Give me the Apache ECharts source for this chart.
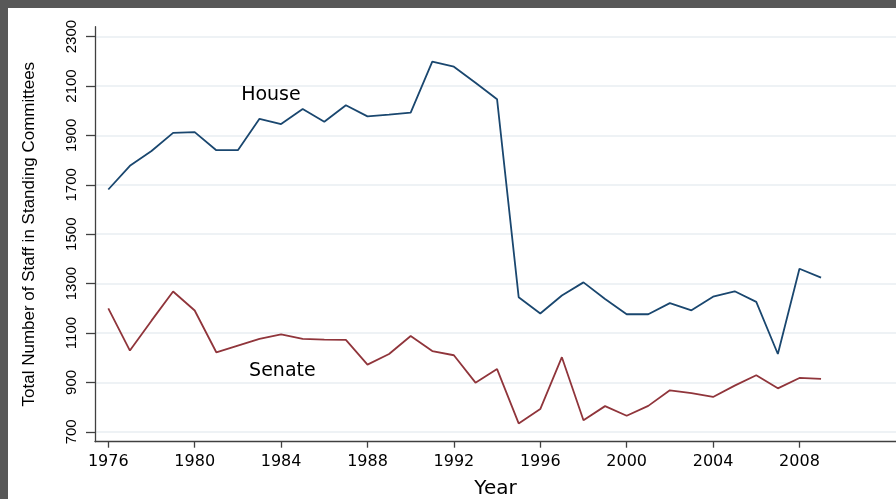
<!DOCTYPE html>
<html>
<head>
<meta charset="utf-8">
<script src="https://cdn.jsdelivr.net/npm/echarts@6/dist/echarts.min.js"></script>
<style>
  html, body { margin: 0; padding: 0; background: #585858; }
  #chart { position: absolute; left: 8px; top: 8px; width: 888px; height: 491px; background: #fff; }
</style>
</head>
<body>
<div id="chart"></div>
<script>
// staff in standing committees, by year
const years = [1976, 1977, 1978, 1979, 1980, 1981, 1982, 1983, 1984, 1985, 1986, 1987, 1988, 1989, 1990, 1991, 1992,
  1993, 1994, 1995, 1996, 1997, 1998, 1999, 2000, 2001, 2002, 2003, 2004, 2005, 2006, 2007, 2008, 2009]
const house = [1681, 1777, 1837, 1910, 1913, 1840, 1840, 1967, 1946, 2007, 1955, 2022, 1977, 1984, 1992, 2199, 2178,
  2113, 2046, 1245, 1179, 1252, 1305, 1238, 1176, 1176, 1221, 1192, 1247, 1269, 1226, 1015, 1360, 1324]
const senate = [1200, 1029, 1150, 1268, 1191, 1022, 1049, 1076, 1094, 1076, 1073, 1072, 972, 1015, 1088, 1027, 1010,
  899, 954, 734, 792, 1002, 747, 804, 765, 805, 868, 857, 841, 887, 929, 876, 918, 914]
const xTicks = [1976, 1980, 1984, 1988, 1992, 1996, 2000, 2004, 2008]
const yTicks = [700, 900, 1100, 1300, 1500, 1700, 1900, 2100, 2300]

const chart = echarts.init(document.getElementById('chart'))

function pairs(vals) {
  return years.map((y, i) => [y, vals[i]])
}

function seriesLabel(text, coord) {
  return {
    symbol: 'circle',
    symbolSize: 0,
    silent: true,
    label: {
      show: true,
      position: 'inside',
      formatter: text,
      color: '#000',
      fontFamily: 'DejaVu Sans',
      fontSize: 19
    },
    data: [{ coord: coord }]
  }
}

chart.setOption({
  animation: false,
  grid: {
    left: 87,
    right: 0,
    top: 18.7,
    bottom: 57.3,
    outerBoundsMode: 'none'
  },
  xAxis: {
    type: 'value',
    min: 1975.384,
    max: 2012.47,
    name: 'Year',
    nameLocation: 'middle',
    nameGap: 37,
    nameTextStyle: { fontFamily: 'DejaVu Sans', fontSize: 20, color: '#000' },
    axisLine: { lineStyle: { color: '#404040', width: 1.3 } },
    axisTick: { customValues: xTicks, length: 6, lineStyle: { color: '#404040', width: 1.3 } },
    axisLabel: {
      customValues: xTicks,
      formatter: v => String(v),
      margin: 12,
      fontFamily: 'DejaVu Sans',
      fontSize: 16,
      color: '#000'
    },
    splitLine: { show: false }
  },
  yAxis: {
    type: 'value',
    min: 660,
    max: 2340,
    name: 'Total Number of Staff in Standing Committees',
    nameLocation: 'middle',
    nameGap: 57,
    nameTextStyle: { fontFamily: 'Liberation Sans', fontSize: 17, color: '#000' },
    axisLine: { show: true, lineStyle: { color: '#404040', width: 1.3 } },
    axisTick: { show: true, customValues: yTicks, length: 9, lineStyle: { color: '#404040', width: 1.3 } },
    axisLabel: {
      customValues: yTicks,
      formatter: v => String(v),
      rotate: 90,
      margin: 16,
      fontFamily: 'Liberation Sans',
      fontSize: 15,
      color: '#000'
    },
    splitLine: { show: true, lineStyle: { color: '#e8eef2', width: 1.5 } }
  },
  series: [
    {
      name: 'House',
      type: 'line',
      data: pairs(house),
      symbol: 'none',
      lineStyle: { color: '#1a476f', width: 1.8 },
      markPoint: seriesLabel('House', [1983.53, 2064])
    },
    {
      name: 'Senate',
      type: 'line',
      data: pairs(senate),
      symbol: 'none',
      lineStyle: { color: '#90353b', width: 1.8 },
      markPoint: seriesLabel('Senate', [1984.06, 946])
    }
  ]
})
</script>
</body>
</html>
